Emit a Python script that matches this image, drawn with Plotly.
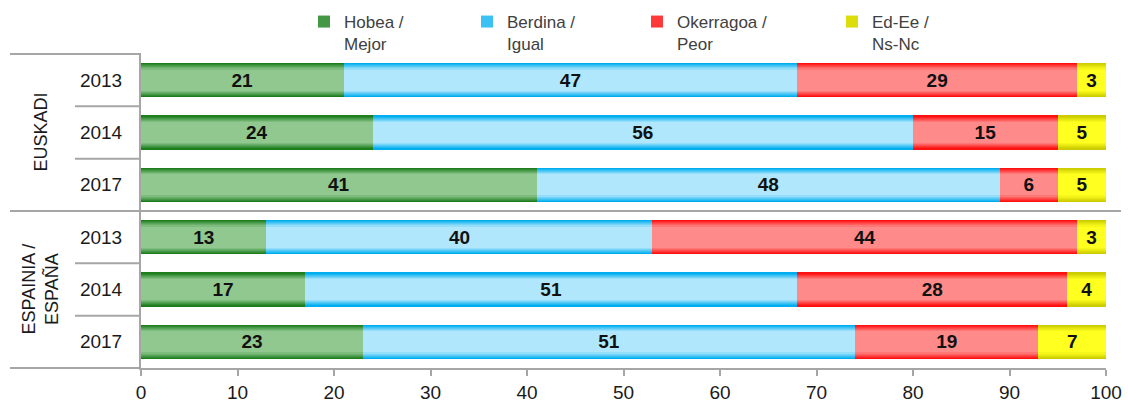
import plotly.graph_objects as go

# ---- data ----
groups = ["EUSKADI", "ESPAINIA /<br>ESPAÑA"]
years = ["2013", "2014", "2017"]
row_keys = [f"{g}|{y}" for g in groups for y in years]

series_names = ["Hobea /<br>Mejor", "Berdina /<br>Igual", "Okerragoa /<br>Peor", "Ed-Ee /<br>Ns-Nc"]
hobea = [21, 24, 41, 13, 17, 23]
berdina = [47, 56, 48, 40, 51, 51]
okerragoa = [29, 15, 6, 44, 28, 19]
ed_ee = [3, 5, 5, 3, 4, 7]
series_values = [hobea, berdina, okerragoa, ed_ee]

x_ticks = [0, 10, 20, 30, 40, 50, 60, 70, 80, 90, 100]

# ---- styling: fake the glossy gradient with nested bars (edge -> centre) ----
edge_centre = [
    ("#1e7e1e", "#90c890"),
    ("#00aeef", "#b0e7fc"),
    ("#ff1010", "#ff8a8a"),
    ("#cccc00", "#ffff20"),
]
layer_widths = [0.65, 0.61, 0.57, 0.53, 0.49, 0.45, 0.40]
legend_x_px = [304, 467, 637, 832]

FONT = "Arial, Liberation Sans, sans-serif"
GREY = "#a6a6a6"
L, R, T, B = 141, 22, 54, 36
W, H = 1128, 404
plot_w = W - L - R
plot_h = H - T - B


def px_x(px):
    return (px - L) / plot_w


def mix(c1, c2, t):
    a = [int(c1[i:i + 2], 16) for i in (1, 3, 5)]
    b = [int(c2[i:i + 2], 16) for i in (1, 3, 5)]
    return "#" + "".join(f"{round(p + (q - p) * t):02x}" for p, q in zip(a, b))


fig = go.Figure()

n_layers = len(layer_widths)
for layer, width in enumerate(layer_widths):
    yname = "y" if layer == 0 else f"y{layer + 1}"
    t = layer / (n_layers - 1)
    for s, (name, vals) in enumerate(zip(series_names, series_values)):
        fig.add_bar(
            x=vals,
            y=row_keys,
            orientation="h",
            width=width,
            yaxis=yname,
            marker=dict(color=mix(edge_centre[s][0], edge_centre[s][1], t), line=dict(width=0)),
            name=name,
            showlegend=(layer == 2),
            legend="legend" if s == 0 else f"legend{s + 1}",
            hoverinfo="skip",
        )

# transparent top layer carrying the value labels
text_axis = f"y{n_layers + 1}"
for s, (name, vals) in enumerate(zip(series_names, series_values)):
    fig.add_bar(
        x=vals,
        y=row_keys,
        orientation="h",
        width=layer_widths[0],
        yaxis=text_axis,
        marker=dict(color="rgba(0,0,0,0)", line=dict(width=0)),
        text=vals,
        textposition="inside",
        insidetextanchor="middle",
        textangle=0,
        constraintext="none",
        textfont=dict(family=FONT, size=19, color="#111111", weight="bold"),
        showlegend=False,
        hovertemplate=name.replace("<br>", " ") + ": %{x}<extra></extra>",
    )

cat_axis = dict(
    type="category",
    categoryorder="array",
    categoryarray=row_keys,
    autorange="reversed",
)

layout_extra = {}
for i in range(2, n_layers + 2):
    layout_extra[f"yaxis{i}"] = dict(cat_axis, overlaying="y", visible=False)

for s in range(len(series_names)):
    key = "legend" if s == 0 else f"legend{s + 1}"
    layout_extra[key] = dict(
        x=px_x(legend_x_px[s]),
        xanchor="left",
        y=1 + (T - 4) / plot_h,
        yanchor="top",
        orientation="h",
        valign="top",
        itemwidth=30,
        bgcolor="rgba(0,0,0,0)",
        font=dict(family=FONT, size=17, color="#404040"),
    )

# separator lines in the category-label area
n = len(row_keys)
shapes = []
for k in range(n + 1):
    yp = 1 - k / n
    if k % len(years) == 0:
        x1 = px_x(1121) if 0 < k < n else 0
        shapes.append(dict(type="line", xref="paper", yref="paper",
                           x0=px_x(10), x1=x1, y0=yp, y1=yp,
                           line=dict(color=GREY, width=2)))
    else:
        shapes.append(dict(type="line", xref="paper", yref="paper",
                           x0=px_x(75), x1=0, y0=yp, y1=yp,
                           line=dict(color=GREY, width=2)))

annotations = []
for g, grp in enumerate(groups):
    annotations.append(dict(
        text=grp, xref="paper", yref="paper",
        x=px_x(40), y=1 - (g + 0.5) / len(groups),
        xanchor="center", yanchor="middle",
        textangle=-90, showarrow=False,
        font=dict(family=FONT, size=18, color="#1a1a1a"),
    ))

fig.update_layout(
    width=W,
    height=H,
    barmode="stack",
    plot_bgcolor="white",
    paper_bgcolor="white",
    margin=dict(l=L, r=R, t=T, b=B, autoexpand=False),
    font=dict(family=FONT, color="#1a1a1a"),
    shapes=shapes,
    annotations=annotations,
    xaxis=dict(
        range=[0, 100],
        tickvals=x_ticks,
        showgrid=False,
        zeroline=False,
        showline=True,
        linecolor=GREY,
        linewidth=2,
        ticks="outside",
        ticklen=6,
        tickwidth=2,
        tickcolor=GREY,
        tickfont=dict(family=FONT, size=19, color="#1a1a1a"),
    ),
    yaxis=dict(
        cat_axis,
        tickvals=row_keys,
        ticktext=[k.split("|")[1] for k in row_keys],
        showgrid=False,
        showline=True,
        linecolor=GREY,
        linewidth=2,
        ticks="",
        ticklabelstandoff=13,
        tickfont=dict(family=FONT, size=19, color="#1a1a1a"),
    ),
    **layout_extra,
)

# the page's default 8px body margin would push the figure off the window
fig.write_html(
    "out.html",
    config={"displayModeBar": False},
    post_script="document.body.style.margin='0px';",
)
